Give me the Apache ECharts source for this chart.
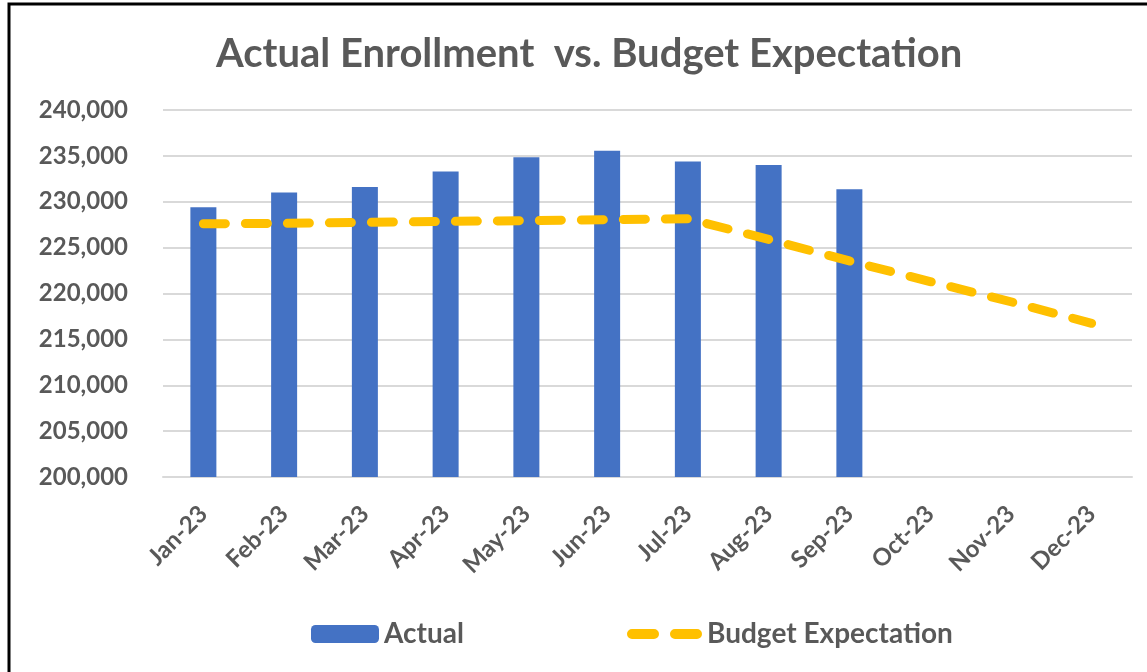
<!DOCTYPE html>
<html>
<head>
<meta charset="utf-8">
<script src="https://cdn.jsdelivr.net/npm/echarts@6/dist/echarts.min.js"></script>
<style>
  html, body { margin: 0; padding: 0; background: #fff; }
  #chart { width: 1147px; height: 672px; }
</style>
</head>
<body>
<div id="chart"></div>
<script>
// data
const months = ['Jan-23', 'Feb-23', 'Mar-23', 'Apr-23', 'May-23', 'Jun-23',
  'Jul-23', 'Aug-23', 'Sep-23', 'Oct-23', 'Nov-23', 'Dec-23'];
const actual = [229400, 231000, 231600, 233300, 234850, 235550,
  234400, 234000, 231350, null, null, null];
const budget = [227600, 227650, 227750, 227850, 227950, 228050,
  228150, 225900, 223550, 221300, 219100, 216750];
const yTicks = { min: 200000, max: 240000, step: 5000 };

const textColor = '#595959';
const font = 'Lato, "Open Sans", sans-serif';
// two rounded dashes for the budget legend key
const dashIcon = 'path://M5,0 H27 A5,5 0 0 1 27,10 H5 A5,5 0 0 1 5,0 Z M48,0 H70 A5,5 0 0 1 70,10 H48 A5,5 0 0 1 48,0 Z';

const chart = echarts.init(document.getElementById('chart'));

chart.setOption({
  backgroundColor: '#fff',
  animation: false,
  title: {
    text: 'Actual Enrollment  vs. Budget Expectation',
    left: 211,
    top: 29,
    textStyle: { color: textColor, fontSize: 40, fontWeight: 'bold', fontFamily: font }
  },
  graphic: [{
    type: 'rect',
    shape: { x: 9, y: 4, width: 1200, height: 700 },
    style: { fill: 'none', stroke: '#000', lineWidth: 3 },
    silent: true
  }],
  legend: [{
    data: ['Actual'],
    left: 306,
    top: 615,
    itemWidth: 68,
    itemHeight: 18,
    textStyle: { color: textColor, fontSize: 28, fontWeight: 'bold', fontFamily: font }
  }, {
    data: [{ name: 'Budget Expectation', icon: dashIcon }],
    left: 622,
    top: 615,
    itemWidth: 75,
    itemHeight: 10,
    textStyle: { color: textColor, fontSize: 28, fontWeight: 'bold', fontFamily: font }
  }],
  grid: { left: 163, right: 15, top: 110, bottom: 195, containLabel: false },
  xAxis: {
    type: 'category',
    data: months,
    axisTick: { show: false },
    axisLine: { lineStyle: { color: '#d9d9d9', width: 2 } },
    axisLabel: {
      rotate: 45,
      margin: 33,
      color: textColor,
      fontSize: 24,
      fontWeight: 'bold',
      fontFamily: font,
      interval: 0
    }
  },
  yAxis: {
    type: 'value',
    min: yTicks.min,
    max: yTicks.max,
    interval: yTicks.step,
    axisLine: { show: false },
    axisTick: { show: false },
    splitLine: { lineStyle: { color: '#d9d9d9', width: 2 } },
    axisLabel: {
      margin: 35,
      color: textColor,
      fontSize: 24,
      fontWeight: 'bold',
      fontFamily: font,
      formatter: v => v.toLocaleString('en-US')
    }
  },
  series: [{
    name: 'Actual',
    type: 'bar',
    data: actual,
    barWidth: 26,
    itemStyle: { color: '#4472c4' }
  }, {
    name: 'Budget Expectation',
    type: 'line',
    data: budget,
    symbol: 'none',
    z: 5,
    lineStyle: { color: '#ffc000', width: 9, type: [22, 20], cap: 'round', join: 'round' },
    itemStyle: { color: '#ffc000' }
  }]
});
</script>
</body>
</html>
